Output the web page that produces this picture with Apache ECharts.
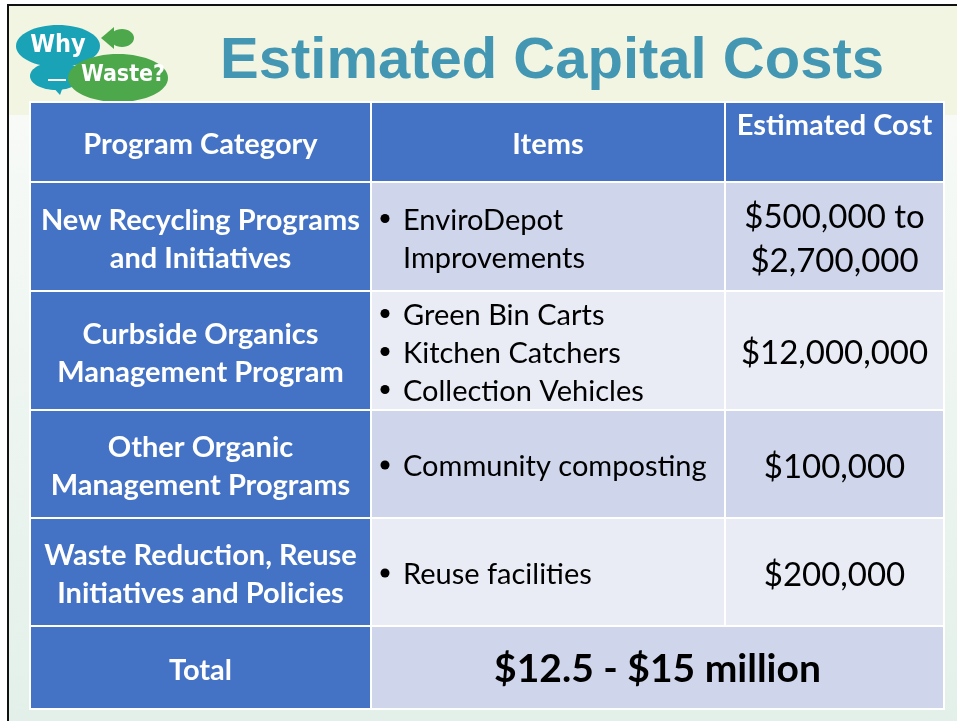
<!DOCTYPE html>
<html><head><meta charset="utf-8">
<script src="https://cdn.jsdelivr.net/npm/echarts@6/dist/echarts.min.js"></script>
<style>html,body{margin:0;padding:0;background:#fff}#c{width:957px;height:721px}</style>
</head><body><div id="c"></div>
<script>
// ---- content ----
const titleText = 'Estimated Capital Costs';
const headers = ['Program Category', 'Items', 'Estimated Cost'];
const categories = [
  'New Recycling Programs\nand Initiatives',
  'Curbside Organics\nManagement Program',
  'Other Organic\nManagement Programs',
  'Waste Reduction, Reuse\nInitiatives and Policies'
];
const items = [
  ['EnviroDepot\nImprovements'],
  ['Green Bin Carts', 'Kitchen Catchers', 'Collection Vehicles'],
  ['Community composting'],
  ['Reuse facilities']
];
const costs = ['$500,000 to\n$2,700,000', '$12,000,000', '$100,000', '$200,000'];
const totalLabel = 'Total';
const totalValue = '$12.5 - $15 million';

// ---- layout (not data) ----
const colWidths = [341, 354, 219];
const rowHeights = [80, 109, 119, 108, 108, 83];
const TW = colWidths.reduce((a, b) => a + b, 0);
const TH = rowHeights.reduce((a, b) => a + b, 0);
const colX = [0]; colWidths.forEach(w => colX.push(colX[colX.length - 1] + w));
const rowY = [0]; rowHeights.forEach(h => rowY.push(rowY[rowY.length - 1] + h));

const BLUE = '#4472C4', DARKROW = '#CFD5EA', LIGHTROW = '#E9EBF5';
const FONT = 'Lato, "Open Sans", sans-serif';

// build cells
const cells = [];
headers.forEach((h, c) => cells.push({ value: [colX[c], rowY[0], colX[c + 1], rowY[1]], kind: c === 2 ? 'headTop' : 'head', text: h, fill: BLUE }));
categories.forEach((cat, r) => {
  const y0 = rowY[r + 1], y1 = rowY[r + 2];
  const bg = r % 2 === 0 ? DARKROW : LIGHTROW;
  cells.push({ value: [colX[0], y0, colX[1], y1], kind: 'cat', text: cat, fill: BLUE });
  cells.push({ value: [colX[1], y0, colX[2], y1], kind: 'items', lines: items[r], fill: bg });
  cells.push({ value: [colX[2], y0, colX[3], y1], kind: 'cost', text: costs[r], fill: bg });
});
const ty0 = rowY[5], ty1 = rowY[6];
cells.push({ value: [colX[0], ty0, colX[1], ty1], kind: 'cat', text: totalLabel, fill: BLUE });
cells.push({ value: [colX[1], ty0, colX[3], ty1], kind: 'total', text: totalValue, fill: DARKROW });

const chart = echarts.init(document.getElementById('c'));

function renderItem(params, api) {
  const cell = cells[params.dataIndex];
  const p0 = api.coord([api.value(0), api.value(1)]);
  const p1 = api.coord([api.value(2), api.value(3)]);
  const x = p0[0], y = p0[1], w = p1[0] - p0[0], h = p1[1] - p0[1];
  const children = [{
    type: 'rect', shape: { x: x, y: y, width: w, height: h },
    style: { fill: cell.fill, stroke: '#fff', lineWidth: 2 }
  }];
  const cx = x + w / 2, cy = y + h / 2;
  if (cell.kind === 'head' || cell.kind === 'cat') {
    children.push({ type: 'text', style: { text: cell.text, x: cx, y: cy + 3, align: 'center', verticalAlign: 'middle', fill: '#fff', font: 'bold 29px ' + FONT, lineHeight: 38 } });
  } else if (cell.kind === 'headTop') {
    children.push({ type: 'text', style: { text: cell.text, x: cx, y: y + 24, align: 'center', verticalAlign: 'middle', fill: '#fff', font: 'bold 29px ' + FONT } });
  } else if (cell.kind === 'cost') {
    children.push({ type: 'text', style: { text: cell.text, x: cx, y: cy + 3, align: 'center', verticalAlign: 'middle', fill: '#000', font: '33px ' + FONT, lineHeight: 44 } });
  } else if (cell.kind === 'total') {
    children.push({ type: 'text', style: { text: cell.text, x: cx, y: cy + 2, align: 'center', verticalAlign: 'middle', fill: '#000', font: 'bold 39px ' + FONT } });
  } else if (cell.kind === 'items') {
    const LH = 38;
    let flat = [];
    cell.lines.forEach(t => t.split('\n').forEach((s, i) => flat.push({ s: s, bullet: i === 0 })));
    const n = flat.length;
    flat.forEach((ln, i) => {
      const ly = cy + 3 + (i - (n - 1) / 2) * LH;
      if (ln.bullet) children.push({ type: 'circle', shape: { cx: x + 14, cy: ly - 2, r: 4.5 }, style: { fill: '#000' } });
      children.push({ type: 'text', style: { text: ln.s, x: x + 32, y: ly, align: 'left', verticalAlign: 'middle', fill: '#000', font: '29px ' + FONT } });
    });
  }
  return { type: 'group', children: children };
}

chart.setOption({
  animation: false,
  backgroundColor: 'transparent',
  graphic: [
    { type: 'rect', z: -10, shape: { x: 0, y: 0, width: 957, height: 721 }, style: { fill: '#fff' } },
    { type: 'rect', z: -9, shape: { x: 9, y: 6, width: 948, height: 715 },
      style: { fill: new echarts.graphic.LinearGradient(0, 0, 0, 1, [{ offset: 0, color: '#FBFCF9' }, { offset: 1, color: '#E3F0EA' }]) } },
    { type: 'rect', z: -8, shape: { x: 9, y: 6, width: 948, height: 109 }, style: { fill: '#F3F5E3' } },
    { type: 'rect', z: -7, shape: { x: 7, y: 4, width: 950, height: 2 }, style: { fill: '#111' } },
    { type: 'rect', z: -7, shape: { x: 7, y: 4, width: 2, height: 717 }, style: { fill: '#111' } },
    // logo
    { type: 'group', z: 5, children: [
      { type: 'ellipse', shape: { cx: 56, cy: 76, rx: 26, ry: 14 }, style: { fill: '#1AA3B6' } },
      { type: 'polygon', shape: { points: [[50, 84], [64, 84], [60, 95]] }, style: { fill: '#1AA3B6' } },
      { type: 'ellipse', shape: { cx: 58, cy: 46, rx: 42, ry: 21 }, style: { fill: '#1AA3B6' } },
      { type: 'rect', shape: { x: 48, y: 79, width: 18, height: 2 }, style: { fill: '#fff' } },
      { type: 'ellipse', shape: { cx: 122, cy: 38, rx: 12, ry: 9 }, style: { fill: '#4CA84A' } },
      { type: 'polygon', shape: { points: [[101, 38], [114, 27], [114, 49]] }, style: { fill: '#4CA84A' } },
      { type: 'ellipse', shape: { cx: 118, cy: 78, rx: 50, ry: 24 }, style: { fill: '#4CA84A' } },
      { type: 'text', style: { text: 'Why', x: 58, y: 45, align: 'center', verticalAlign: 'middle', fill: '#fff', font: 'bold 25px "DejaVu Sans Condensed", "DejaVu Sans", sans-serif' } },
      { type: 'text', style: { text: 'Waste?', x: 123, y: 75, align: 'center', verticalAlign: 'middle', fill: '#fff', font: 'bold 23px "DejaVu Sans Condensed", "DejaVu Sans", sans-serif' } }
    ] },
    { type: 'text', z: 5, style: { text: titleText, x: 552, y: 62, align: 'center', verticalAlign: 'middle', fill: '#4397B2', font: 'bold 58px "Liberation Sans", Arial, sans-serif' } }
  ],
  grid: { left: 30, top: 102, width: TW, height: TH, containLabel: false },
  xAxis: { type: 'value', min: 0, max: TW, show: false },
  yAxis: { type: 'value', min: 0, max: TH, inverse: true, show: false },
  series: [{
    type: 'custom', renderItem: renderItem, clip: false,
    data: cells.map(c => c.value)
  }]
});
</script></body></html>
